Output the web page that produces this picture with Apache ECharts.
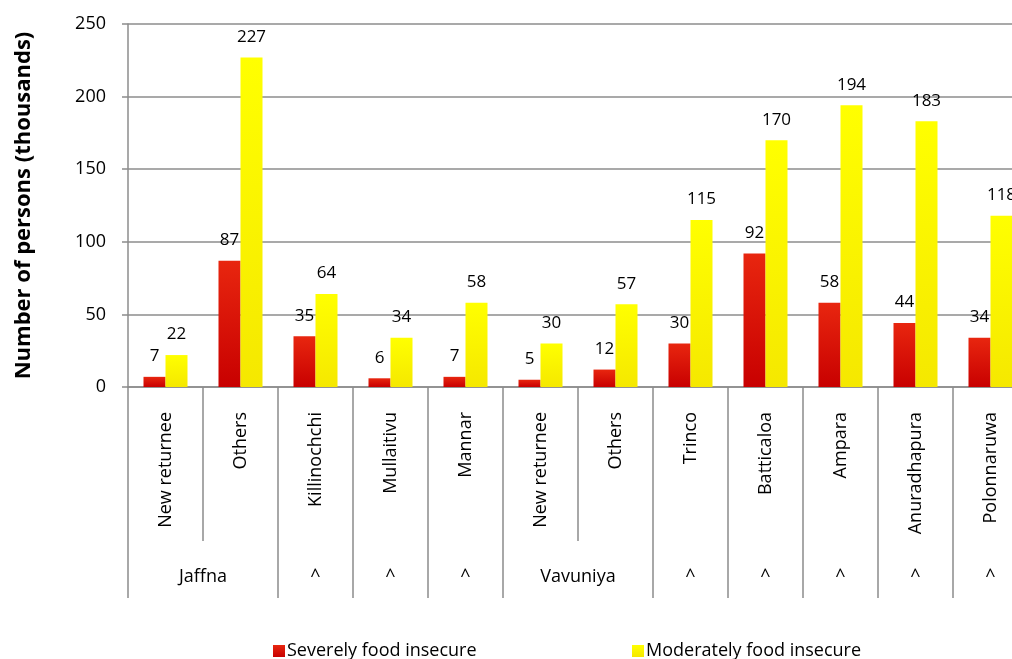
<!DOCTYPE html>
<html>
<head>
<meta charset="utf-8">
<script src="https://cdn.jsdelivr.net/npm/echarts@6/dist/echarts.min.js"></script>
<style>html,body{margin:0;padding:0;background:#fff;}#c{width:1012px;height:659px;}</style>
</head>
<body>
<div id="c"></div>
<script>
const categories = ['New returnee','Others','Killinochchi','Mullaitivu','Mannar','New returnee','Others','Trinco','Batticaloa','Ampara','Anuradhapura','Polonnaruwa'];
const groupLabels = ['Jaffna','','^','^','^','Vavuniya','','^','^','^','^','^'];
const groupSpans = [2,0,1,1,1,2,0,1,1,1,1,1];
const severe = [7,87,35,6,7,5,12,30,92,58,44,34];
const moderate = [22,227,64,34,58,30,57,115,170,194,183,118];
const yTicks = [0,50,100,150,200,250];

const FONT = 'Open Sans';
const gray = '#8c8c8c';
const chart = echarts.init(document.getElementById('c'));
const band = 75;
chart.setOption({
  animation:false,
  textStyle:{fontFamily:FONT},
  grid:{left:128, top:24, width:900, bottom:272, containLabel:false, outerBoundsMode:'none'},
  legend:[
    {data:['Severely food insecure'], left:268, top:637, icon:'rect', itemWidth:12, itemHeight:12, itemGap:6,
     textStyle:{fontFamily:FONT, fontSize:18, color:'#000', padding:[0,0,0,-3]}},
    {data:['Moderately food insecure'], left:627, top:637, icon:'rect', itemWidth:12, itemHeight:12,
     textStyle:{fontFamily:FONT, fontSize:18, color:'#000', padding:[0,0,0,-3]}}
  ],
  xAxis:[
    {type:'category', data:categories, position:'bottom',
     axisLine:{show:true, lineStyle:{color:gray, width:1.5}},
     axisTick:{show:true, length:154, lineStyle:{color:gray, width:1.5}},
     axisLabel:{interval:0, rotate:90, margin:25, fontSize:18, color:'#000', fontFamily:FONT}},
    {type:'category', data:categories.map((c,i)=>'t'+i), position:'bottom',
     axisLine:{show:false},
     axisTick:{show:true, length:211, interval:function(i){return groupSpans[i]!==0;}, lineStyle:{color:gray, width:1.5}},
     axisLabel:{show:false}},
    {type:'category', data:categories.map((c,i)=>'g'+i), position:'bottom',
     axisLine:{show:false}, axisTick:{show:false},
     axisLabel:{interval:0, margin:181, fontSize:18, color:'#000', fontFamily:FONT,
       formatter:function(v,i){ const t = groupLabels[i]; if(!t) return ''; return groupSpans[i]===2 ? '{s|'+t+'}' : t; },
       rich:{s:{padding:[0,0,0,band], fontSize:18, fontFamily:FONT, color:'#000'}}}}
  ],
  yAxis:{type:'value', min:0, max:250, interval:50,
    name:'Number of persons (thousands)', nameLocation:'middle', nameGap:93,
    nameTextStyle:{fontSize:22, fontWeight:'bold', color:'#000', fontFamily:FONT},
    axisLine:{show:true, lineStyle:{color:gray, width:1.5}},
    axisTick:{show:true, length:6, lineStyle:{color:gray, width:1.5}},
    axisLabel:{margin:22, fontSize:18, color:'#000', fontFamily:FONT, formatter:v=>yTicks.includes(v)?String(v):''},
    splitLine:{show:true, lineStyle:{color:gray, width:1.5}}},
  series:[
    {name:'Severely food insecure', type:'bar', data:severe, barWidth:22, barGap:'0%',
     itemStyle:{color:new echarts.graphic.LinearGradient(0,0,0,1,[{offset:0,color:'#e8260f'},{offset:1,color:'#c80000'}])},
     label:{show:true, position:'top', distance:12, fontSize:17, color:'#000', fontFamily:FONT}},
    {name:'Moderately food insecure', type:'bar', data:moderate, barWidth:22, barGap:'0%',
     itemStyle:{color:new echarts.graphic.LinearGradient(0,0,0,1,[{offset:0,color:'#ffff00'},{offset:1,color:'#f5e800'}])},
     label:{show:true, position:'top', distance:12, fontSize:17, color:'#000', fontFamily:FONT}}
  ]
});
</script>
</body>
</html>
